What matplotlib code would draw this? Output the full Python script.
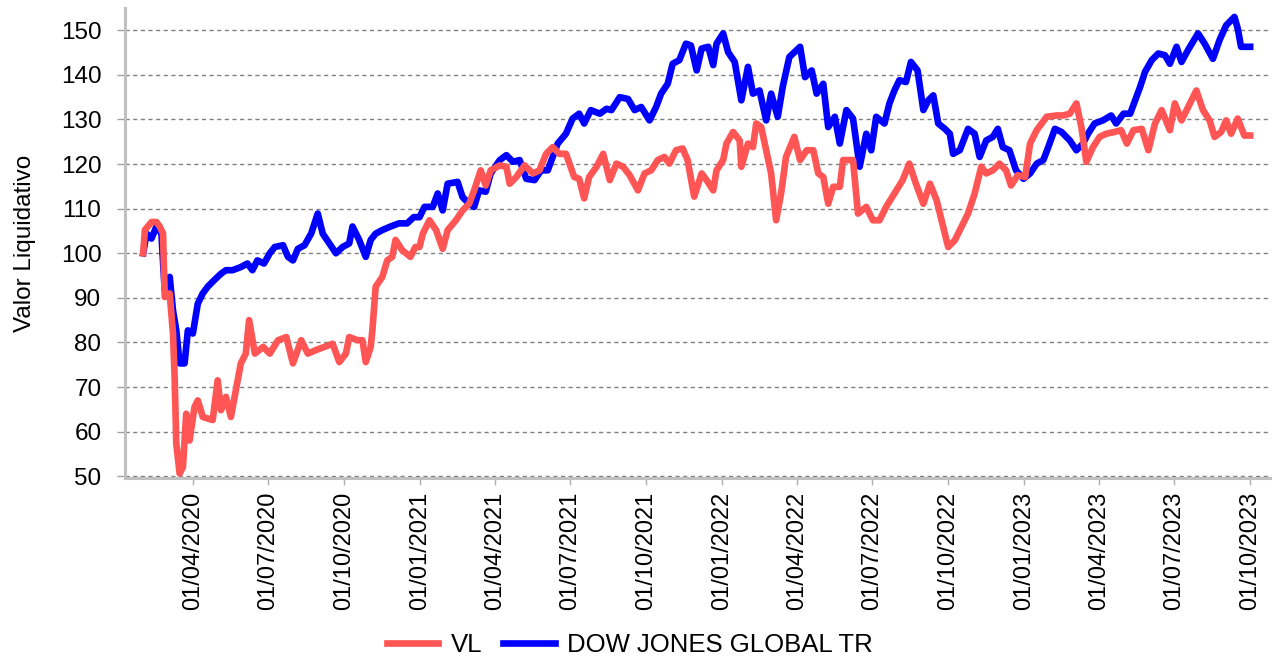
import matplotlib

matplotlib.use("Agg")
import matplotlib.dates as mdates
import matplotlib.pyplot as plt
import pandas as pd

plt.rcParams["font.family"] = ["Liberation Sans", "DejaVu Sans"]

# VL (fund net asset value, base 100)
vl_dates = [
    "2020-02-01", "2020-02-03", "2020-02-11", "2020-02-17", "2020-02-21", "2020-02-25", "2020-02-27", "2020-03-04",
    "2020-03-08", "2020-03-10", "2020-03-12", "2020-03-16", "2020-03-20", "2020-03-24", "2020-03-28", "2020-04-03",
    "2020-04-07", "2020-04-13", "2020-04-25", "2020-05-01", "2020-05-05", "2020-05-11", "2020-05-17", "2020-05-23",
    "2020-05-29", "2020-06-04", "2020-06-08", "2020-06-15", "2020-06-25", "2020-07-03", "2020-07-13", "2020-07-23",
    "2020-07-31", "2020-08-10", "2020-08-18", "2020-08-28", "2020-09-07", "2020-09-17", "2020-09-25", "2020-10-03",
    "2020-10-07", "2020-10-17", "2020-10-23", "2020-10-27", "2020-11-02", "2020-11-04", "2020-11-08", "2020-11-16",
    "2020-11-22", "2020-11-28", "2020-12-02", "2020-12-10", "2020-12-20", "2020-12-26",
    "2020-12-31", "2021-01-04", "2021-01-12", "2021-01-20", "2021-01-28", "2021-02-03", "2021-02-13", "2021-02-21",
    "2021-03-01", "2021-03-07", "2021-03-15", "2021-03-21", "2021-03-27", "2021-04-07", "2021-04-15", "2021-04-19",
    "2021-04-27", "2021-05-07", "2021-05-17", "2021-05-25", "2021-06-02", "2021-06-10", "2021-06-18", "2021-06-26",
    "2021-07-06", "2021-07-12", "2021-07-18", "2021-07-24", "2021-08-02", "2021-08-10", "2021-08-18", "2021-08-26",
    "2021-09-03", "2021-09-11", "2021-09-21", "2021-09-29", "2021-10-07", "2021-10-15", "2021-10-23", "2021-10-29",
    "2021-11-06", "2021-11-14", "2021-11-20", "2021-11-28", "2021-12-07", "2021-12-13", "2021-12-21", "2021-12-25",
    "2022-01-02", "2022-01-06", "2022-01-14", "2022-01-22", "2022-01-24", "2022-02-01", "2022-02-07", "2022-02-11",
    "2022-02-17", "2022-02-23", "2022-03-01", "2022-03-07", "2022-03-13", "2022-03-19", "2022-03-29", "2022-04-05",
    "2022-04-13", "2022-04-21", "2022-04-27", "2022-05-03", "2022-05-09", "2022-05-15",
    "2022-05-23", "2022-05-27", "2022-06-08", "2022-06-14", "2022-06-24", "2022-07-02", "2022-07-10", "2022-07-18",
    "2022-07-28", "2022-08-07", "2022-08-15", "2022-08-23", "2022-09-01", "2022-09-09", "2022-09-17", "2022-09-25",
    "2022-10-01", "2022-10-09", "2022-10-17", "2022-10-25", "2022-11-02", "2022-11-10", "2022-11-16", "2022-11-24",
    "2022-12-02", "2022-12-10", "2022-12-16", "2022-12-24", "2023-01-02", "2023-01-08", "2023-01-16", "2023-01-28",
    "2023-02-09", "2023-02-17", "2023-02-25", "2023-03-05", "2023-03-11", "2023-03-17", "2023-03-25", "2023-04-02",
    "2023-04-10", "2023-04-20", "2023-04-28", "2023-05-05", "2023-05-13", "2023-05-23", "2023-05-31", "2023-06-08",
    "2023-06-16", "2023-06-26", "2023-07-02", "2023-07-10", "2023-07-18", "2023-07-28", "2023-08-05", "2023-08-13",
    "2023-08-19", "2023-08-27", "2023-09-02", "2023-09-08", "2023-09-16", "2023-09-24", "2023-10-01",
]
vl_values = [
    100, 105.2, 107, 107, 106, 104.4, 90.2, 91, 82, 72.3, 57.3, 50.6, 52, 64, 58, 65.5,
    67, 63.3, 62.6, 71.5, 64.8, 67.8, 63.3, 69.3, 75.3, 77.5, 85, 77.5, 79, 77.5, 80.5, 81.2,
    75.3, 80.5, 77.5, 78.3, 79, 79.7, 75.6, 77.5, 81.2, 80.5, 80.5, 75.6, 79, 82.7, 92.5, 94.7,
    98.4, 99.2, 103, 100.7, 99.2, 101.4,
    101.4, 104.4, 107.4, 105.2, 101, 105.2, 107.4, 109.6, 111.1, 114.1, 118.6, 115.2, 118.6, 119.7, 119.4,
    115.6, 117.1, 119.7, 117.9, 118.6, 122.3, 123.8, 122.3, 122.3, 117.1, 116.7, 112.3, 117.1, 119.4, 122.3,
    116.4, 120.1, 119.4, 117.5, 114.1, 117.9, 118.6, 120.9, 121.6, 120.1, 123.1, 123.5, 120.9, 112.7, 117.9,
    116.4, 114.1, 118.6, 120.9, 124.6, 127.2, 125.3, 119.4, 124.6, 123.8, 129.1, 128.3, 123.1, 117.9, 107.4,
    113.4, 121.6, 126.1, 120.9, 123.1, 123.1, 117.9, 117.1, 111.1, 114.9,
    114.9, 120.9, 120.9, 108.9, 110.4, 107.4, 107.4, 110.4, 113.4, 116.4, 120.1, 115.6, 111.1, 115.6, 111.9,
    105.9, 101.4, 102.9, 105.9, 108.9, 113.4, 119.4, 117.9, 118.6, 120.1, 118.6, 115.2, 117.5, 117.1, 124.6,
    127.6, 130.6, 130.9, 130.9, 131.3, 133.6, 128.3, 120.5, 123.8, 126.1, 126.8, 127.2, 127.6, 124.6, 127.6,
    127.9, 123.1, 129.1, 132.1, 127.6, 133.6, 129.8, 132.8, 136.5, 132.1, 129.8, 126.1, 127.2, 129.8, 126.8,
    130.2, 126.4, 126.4,
]

# DOW JONES GLOBAL TR (benchmark, base 100)
dj_dates = [
    "2020-02-01", "2020-02-05", "2020-02-11", "2020-02-17", "2020-02-23", "2020-02-27", "2020-03-04", "2020-03-08",
    "2020-03-12", "2020-03-16", "2020-03-22", "2020-03-26", "2020-04-01", "2020-04-07", "2020-04-13", "2020-04-19",
    "2020-04-27", "2020-05-05", "2020-05-11", "2020-05-19", "2020-05-29", "2020-06-06", "2020-06-12", "2020-06-18",
    "2020-06-26", "2020-07-03", "2020-07-09", "2020-07-19", "2020-07-25", "2020-07-31", "2020-08-06", "2020-08-14",
    "2020-08-22", "2020-08-30", "2020-09-05", "2020-09-13", "2020-09-21", "2020-09-29", "2020-10-07", "2020-10-11",
    "2020-10-19", "2020-10-27", "2020-11-02", "2020-11-08", "2020-11-16", "2020-11-26", "2020-12-06", "2020-12-16",
    "2020-12-24",
    "2020-12-31", "2021-01-06", "2021-01-16", "2021-01-22", "2021-01-28", "2021-02-03", "2021-02-15", "2021-02-21",
    "2021-03-01", "2021-03-07", "2021-03-13", "2021-03-21", "2021-03-27", "2021-04-07", "2021-04-15", "2021-04-23",
    "2021-05-01", "2021-05-09", "2021-05-19", "2021-05-27", "2021-06-04", "2021-06-10", "2021-06-16", "2021-06-26",
    "2021-07-04", "2021-07-12", "2021-07-18", "2021-07-26", "2021-08-06", "2021-08-14", "2021-08-20", "2021-08-30",
    "2021-09-09", "2021-09-17", "2021-09-25", "2021-10-05", "2021-10-13", "2021-10-19", "2021-10-27", "2021-11-02",
    "2021-11-10", "2021-11-18", "2021-11-24", "2021-12-01", "2021-12-07", "2021-12-15", "2021-12-21", "2021-12-25",
    "2022-01-02", "2022-01-08", "2022-01-16", "2022-01-24", "2022-02-01", "2022-02-07", "2022-02-15", "2022-02-23",
    "2022-03-01", "2022-03-09", "2022-03-15", "2022-03-23", "2022-04-05", "2022-04-11", "2022-04-19", "2022-04-25",
    "2022-05-03", "2022-05-09", "2022-05-17",
    "2022-05-23", "2022-05-31", "2022-06-08", "2022-06-16", "2022-06-24", "2022-06-30", "2022-07-06", "2022-07-16",
    "2022-07-22", "2022-07-28", "2022-08-03", "2022-08-11", "2022-08-17", "2022-08-25", "2022-09-01", "2022-09-07",
    "2022-09-13", "2022-09-19", "2022-09-27", "2022-10-03", "2022-10-07", "2022-10-15", "2022-10-25", "2022-11-02",
    "2022-11-08", "2022-11-16", "2022-11-24", "2022-11-30", "2022-12-06", "2022-12-14", "2022-12-22", "2022-12-31",
    "2023-01-08", "2023-01-16", "2023-01-24", "2023-01-30", "2023-02-07", "2023-02-15", "2023-02-25", "2023-03-05",
    "2023-03-13", "2023-03-19", "2023-03-27", "2023-04-06", "2023-04-16", "2023-04-22", "2023-05-01", "2023-05-09",
    "2023-05-15", "2023-05-21", "2023-05-27", "2023-06-04", "2023-06-12", "2023-06-20", "2023-06-26", "2023-07-04",
    "2023-07-10", "2023-07-18", "2023-07-30", "2023-08-07", "2023-08-17", "2023-08-25", "2023-09-02", "2023-09-12",
    "2023-09-16", "2023-09-20", "2023-10-01",
]
dj_values = [
    100, 104.4, 103.3, 106, 104.4, 91.7, 94.7, 87.2, 82.7, 75.3, 75.3, 82.7, 82, 88.7, 91, 92.5,
    94, 95.4, 96.2, 96.2, 96.9, 97.7, 96.2, 98.4, 97.7, 100, 101.4, 101.8, 99.2, 98.4, 101, 101.8,
    104.4, 108.9, 104.4, 102.2, 100, 101.4, 102.2, 106, 103, 99.2, 103, 104.4, 105.2, 106, 106.7, 106.7,
    108.1,
    108.1, 110.4, 110.4, 113.4, 109.6, 115.6, 116, 112.6, 111.1, 110.4, 114.1, 113.8, 117.9, 120.9, 122,
    120.5, 120.9, 116.7, 116.4, 118.6, 118.6, 121.6, 124.6, 126.8, 130.2, 131.3, 129.1, 132.1, 131.3, 132.4,
    132.1, 135, 134.6, 132.1, 132.8, 129.8, 132.8, 135.8, 138, 142.5, 143.3, 147, 146.6, 141, 145.9,
    146.3, 142.2, 147, 149.3, 145.1, 142.9, 134.3, 141.8, 135.8, 136.5, 129.8, 135.8, 130.6, 137.3, 144,
    146.3, 139.5, 141, 135.8, 138, 128.3, 130.6,
    124.6, 132.1, 130.2, 119.4, 126.8, 123.1, 130.6, 129.1, 133.6, 136.5, 138.8, 138.4, 142.9, 141, 132.1,
    134.3, 135.4, 129.1, 127.9, 126.8, 122.3, 123.1, 127.9, 126.8, 121.6, 125.3, 126.1, 127.9, 123.8, 123.1,
    118.6, 116.7, 117.9, 120.1, 120.9, 123.8, 127.9, 127.2, 125.3, 123.1, 124.6, 126.8, 129.1, 129.8, 130.9,
    129.1, 131.3, 131.3, 134.3, 137.3, 140.7, 143.3, 144.8, 144.4, 142.5, 146.3, 142.9, 145.6, 149.3, 147,
    143.6, 147.8, 151.1, 153, 150.4, 146.3, 146.3,
]

y_ticks = [50, 60, 70, 80, 90, 100, 110, 120, 130, 140, 150]

fig = plt.figure(figsize=(12.75, 6.6), dpi=100)
ax = fig.add_axes([125 / 1275, 1 - 478 / 660, 1145 / 1275, 470 / 660])

ax.plot(pd.to_datetime(vl_dates), vl_values, color="#ff5555", lw=4.8, label="VL", zorder=4)
ax.plot(pd.to_datetime(dj_dates), dj_values, color="#0000ff", lw=4.8, label="DOW JONES GLOBAL TR", zorder=3)

ax.set_xlim(pd.Timestamp("2020-01-10"), pd.Timestamp("2023-10-25"))
ax.set_ylim(49.6, 155)
ax.set_yticks(y_ticks)
ax.xaxis.set_major_locator(mdates.MonthLocator(bymonth=[1, 4, 7, 10], bymonthday=1))
ax.xaxis.set_major_formatter(mdates.DateFormatter("%d/%m/%Y"))

ax.grid(axis="y", color="#808080", linestyle=(0, (3, 2.5)), linewidth=1.0)
ax.set_axisbelow(True)
for side in ["top", "right"]:
    ax.spines[side].set_visible(False)
for side in ["left", "bottom"]:
    ax.spines[side].set_color("#c0c0c0")
    ax.spines[side].set_linewidth(2.2)

ax.tick_params(axis="y", labelsize=17.5, length=6, width=1, color="#a0a0a0", pad=11)
ax.tick_params(axis="x", labelsize=17, length=5, width=1, color="#b0b0b0", pad=5, labelrotation=90)
ax.set_ylabel("Valor Liquidativo", fontsize=17.5, labelpad=18)

# legend order as in the reference: VL first
handles, labels = ax.get_legend_handles_labels()
fig.legend(handles, labels, loc="center", bbox_to_anchor=(630 / 1275, 1 - 645 / 660), ncol=2, frameon=False,
           fontsize=18.5, handlelength=2.0, handletextpad=0.5, columnspacing=0.8)

fig.savefig("out.png", dpi=100)
